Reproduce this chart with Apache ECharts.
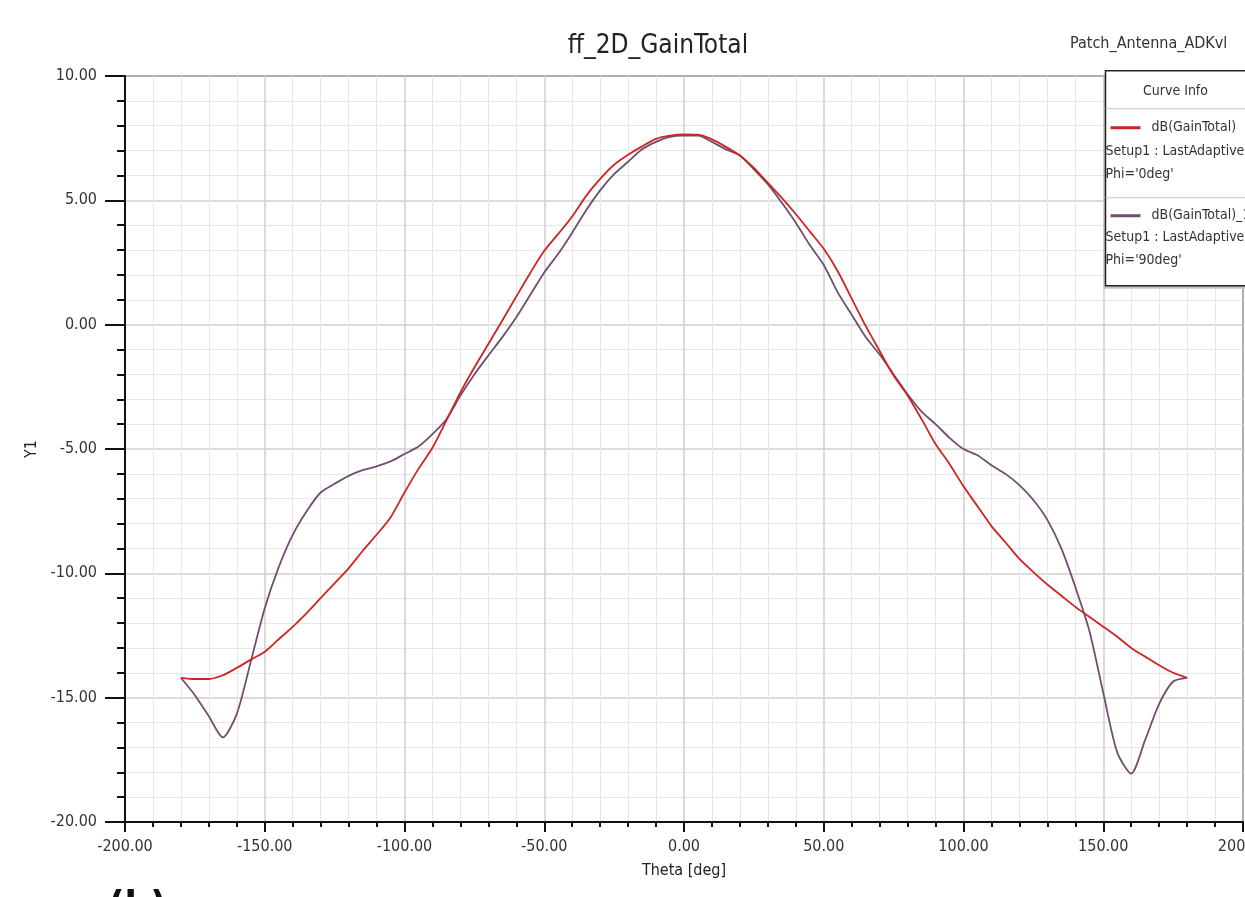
<!DOCTYPE html>
<html>
<head>
<meta charset="utf-8">
<title>ff_2D_GainTotal</title>
<script src="https://cdn.jsdelivr.net/npm/echarts@6/dist/echarts.min.js"></script>
<style>
  html, body { margin: 0; padding: 0; background: #fff; }
  #chartMain { width: 1245px; height: 897px; }
</style>
</head>
<body>
<div id="chartMain"></div>
<script>
// theta sweep, deg
const thetaDeg = [
  -180, -175, -170, -165, -160, -155, -150, -145, -140, -135, -130, -125, -120,
  -115, -110, -105, -100, -95, -90, -85, -80, -75, -70, -65, -60,
  -55, -50, -45, -40, -35, -30, -25, -20, -15, -10, -5, 0,
  5, 10, 15, 20, 25, 30, 35, 40, 45, 50, 55, 60,
  65, 70, 75, 80, 85, 90, 95, 100, 105, 110, 115, 120,
  125, 130, 135, 140, 145, 150, 155, 160, 165, 170, 175, 180
];
// dB(GainTotal), Phi='0deg'
const gainPhi0 = [
  -14.2, -14.25, -14.25, -14.1, -13.8, -13.47, -13.15, -12.65, -12.15, -11.6, -11.0, -10.4, -9.8,
  -9.1, -8.45, -7.75, -6.75, -5.8, -4.95, -3.85, -2.72, -1.72, -0.78, 0.17, 1.13,
  2.08, 2.97, 3.65, 4.35, 5.18, 5.86, 6.43, 6.83, 7.17, 7.47, 7.6, 7.65,
  7.64, 7.45, 7.15, 6.8, 6.3, 5.7, 5.1, 4.45, 3.75, 3.05, 2.15, 1.05,
  -0.05, -1.06, -2.05, -2.85, -3.8, -4.8, -5.6, -6.5, -7.3, -8.1, -8.75, -9.42,
  -9.95, -10.45, -10.9, -11.35, -11.75, -12.15, -12.55, -13.0, -13.35, -13.7, -14.0, -14.2
];
// dB(GainTotal)_1, Phi='90deg'
const gainPhi90 = [
  -14.2, -14.9, -15.75, -16.6, -15.65, -13.55, -11.4, -9.75, -8.45, -7.5, -6.75, -6.4, -6.08,
  -5.85, -5.7, -5.5, -5.2, -4.9, -4.4, -3.8, -2.85, -2.0, -1.24, -0.5, 0.3,
  1.2, 2.1, 2.85, 3.7, 4.6, 5.4, 6.05, 6.55, 7.05, 7.35, 7.55, 7.6,
  7.6, 7.35, 7.05, 6.8, 6.25, 5.65, 4.9, 4.1, 3.2, 2.4, 1.3, 0.4,
  -0.5, -1.2, -2.0, -2.8, -3.5, -4.0, -4.55, -5.0, -5.25, -5.65, -6.0, -6.45,
  -7.05, -7.85, -9.0, -10.55, -12.3, -14.8, -17.2, -18.05, -16.7, -15.25, -14.35, -14.2
];
const seriesNames = ["dB(GainTotal)", "dB(GainTotal)_1"];
const seriesSetup = "Setup1 : LastAdaptive";
const seriesPhi = ["Phi='0deg'", "Phi='90deg'"];

const FONT = '"Liberation Sans Narrow", "DejaVu Sans Condensed", "Liberation Sans", sans-serif';
const RED = "#cf2424";
const PURPLE = "#6f4f70";

function pairs(ys) {
  return thetaDeg.map((t, i) => [t, ys[i]]);
}

const chartMain = echarts.init(document.getElementById("chartMain"));

const legendFont = "14px " + FONT;
const legendBox = {
  type: "group",
  left: 1103,
  top: 70,
  z: 100,
  children: [
    {type: "rect", z: 100, shape: {x: -2, y: 3, width: 160, height: 215}, style: {fill: "#c4c4c4"}},
    {type: "rect", z: 101, shape: {x: 0, y: 0, width: 160, height: 215}, style: {fill: "#fff", stroke: "#222", lineWidth: 1.5}},
    {type: "text", z: 102, x: 70, y: 21, style: {text: "Curve Info", font: legendFont, fill: "#333", align: "center", verticalAlign: "middle"}},
    {type: "line", z: 102, shape: {x1: 0, y1: 38, x2: 160, y2: 38}, style: {stroke: "#c8c8c8", lineWidth: 1}},
    {type: "line", z: 102, shape: {x1: 5, y1: 57, x2: 35, y2: 57}, style: {stroke: RED, lineWidth: 3}},
    {type: "text", z: 102, x: 46, y: 57, style: {text: seriesNames[0], font: legendFont, fill: "#333", verticalAlign: "middle"}},
    {type: "text", z: 102, x: 0, y: 81, style: {text: seriesSetup, font: legendFont, fill: "#333", verticalAlign: "middle"}},
    {type: "text", z: 102, x: 0, y: 104, style: {text: seriesPhi[0], font: legendFont, fill: "#333", verticalAlign: "middle"}},
    {type: "line", z: 102, shape: {x1: 0, y1: 127, x2: 160, y2: 127}, style: {stroke: "#c8c8c8", lineWidth: 1}},
    {type: "line", z: 102, shape: {x1: 5, y1: 145, x2: 35, y2: 145}, style: {stroke: PURPLE, lineWidth: 3}},
    {type: "text", z: 102, x: 46, y: 145, style: {text: seriesNames[1], font: legendFont, fill: "#333", verticalAlign: "middle"}},
    {type: "text", z: 102, x: 0, y: 167, style: {text: seriesSetup, font: legendFont, fill: "#333", verticalAlign: "middle"}},
    {type: "text", z: 102, x: 0, y: 190, style: {text: seriesPhi[1], font: legendFont, fill: "#333", verticalAlign: "middle"}}
  ]
};

const options = {
  backgroundColor: "#fff",
  animation: false,
  title: {
    text: "ff_2D_GainTotal",
    left: 653,
    top: 28,
    textAlign: "center",
    textStyle: {fontFamily: FONT, fontSize: 26, fontWeight: "normal", color: "#222"}
  },
  grid: {
    left: 125,
    right: 2,
    top: 76,
    bottom: 75,
    outerBoundsMode: "none",
    containLabel: false,
    show: true,
    borderColor: "#111",
    borderWidth: 1.5,
    backgroundColor: "#fff"
  },
  xAxis: {
    type: "value",
    min: -200,
    max: 200,
    interval: 50,
    name: "Theta [deg]",
    nameLocation: "middle",
    nameGap: 41,
    nameTextStyle: {fontFamily: FONT, fontSize: 16, color: "#222"},
    axisLine: {onZero: false, lineStyle: {color: "#111", width: 2}},
    axisTick: {show: true, length: 10, lineStyle: {color: "#111", width: 2}},
    minorTick: {show: true, splitNumber: 5, length: 5, lineStyle: {color: "#111", width: 2}},
    splitLine: {show: true, lineStyle: {color: "#cfcfcf", width: 1.5}},
    minorSplitLine: {show: true, lineStyle: {color: "#e6e6e6", width: 1}},
    axisLabel: {
      margin: 17,
      fontFamily: FONT,
      fontSize: 16,
      color: "#333",
      formatter: v => v.toFixed(2)
    }
  },
  yAxis: {
    type: "value",
    min: -20,
    max: 10,
    interval: 5,
    name: "Y1",
    nameLocation: "middle",
    nameGap: 72,
    nameRotate: 90,
    nameTextStyle: {fontFamily: FONT, fontSize: 16, color: "#222"},
    axisLine: {onZero: false, lineStyle: {color: "#111", width: 2}},
    axisTick: {show: true, length: 20, lineStyle: {color: "#111", width: 2}},
    minorTick: {show: true, splitNumber: 5, length: 8, lineStyle: {color: "#111", width: 2}},
    splitLine: {show: true, lineStyle: {color: "#cfcfcf", width: 1.5}},
    minorSplitLine: {show: true, lineStyle: {color: "#e6e6e6", width: 1}},
    axisLabel: {
      margin: 28,
      fontFamily: FONT,
      fontSize: 16,
      color: "#333",
      formatter: v => v.toFixed(2)
    }
  },
  series: [
    {
      name: seriesNames[1],
      type: "line",
      data: pairs(gainPhi90),
      symbol: "none",
      smooth: 0.25,
      z: 2,
      lineStyle: {color: PURPLE, width: 1.8}
    },
    {
      name: seriesNames[0],
      type: "line",
      data: pairs(gainPhi0),
      symbol: "none",
      smooth: 0.25,
      z: 3,
      lineStyle: {color: RED, width: 1.8}
    }
  ],
  graphic: [
    {
      type: "text",
      left: 1070,
      top: 36,
      style: {text: "Patch_Antenna_ADKvl", font: "16px " + FONT, fill: "#333"}
    },
    legendBox,
    {
      type: "text",
      left: 108,
      top: 890,
      style: {text: "(b)", font: "bold 40px " + FONT, fill: "#111"}
    }
  ]
};

chartMain.setOption(options, true);
</script>
</body>
</html>
